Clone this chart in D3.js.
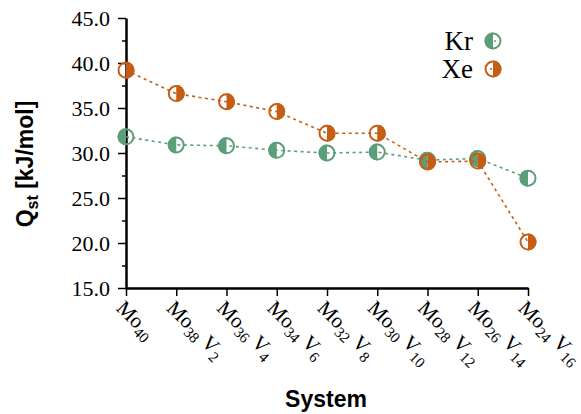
<!DOCTYPE html>
<html>
<head>
<meta charset="utf-8">
<script src="https://cdn.jsdelivr.net/npm/d3@7"></script>
<style>
  body { margin: 0; background: #fff; }
</style>
</head>
<body>
<div id="chart"></div>
<script>
// data
var systems = [
  {mo: "40", v: null}, {mo: "38", v: "2"}, {mo: "36", v: "4"},
  {mo: "34", v: "6"}, {mo: "32", v: "8"}, {mo: "30", v: "10"},
  {mo: "28", v: "12"}, {mo: "26", v: "14"}, {mo: "24", v: "16"}
];
var krValues = [31.8, 30.9, 30.8, 30.3, 30.0, 30.1, 29.2, 29.4, 27.2];
var xeValues = [39.2, 36.6, 35.7, 34.6, 32.2, 32.2, 29.0, 29.1, 20.1];
var yTicks = [15, 20, 25, 30, 35, 40, 45];
var yMinorTicks = [17.5, 22.5, 27.5, 32.5, 37.5, 42.5];

var krColor = "#5b9e7a", xeColor = "#c55e14";
var serif = "'Liberation Serif', 'Times New Roman', serif";
var sans = "'Liberation Sans', Arial, sans-serif";

var W = 581, H = 414;
var margin = {top: 18, right: 53, bottom: 126, left: 126};
var width = W - margin.left - margin.right,
    height = H - margin.top - margin.bottom;

var names = systems.map(function(d, i) { return "s" + i; });

var x = d3.scalePoint().domain(names).range([0, width]);
var y = d3.scaleLinear().domain([15, 45]).range([height, 0]);

var svg = d3.select("#chart").append("svg")
  .attr("width", W).attr("height", H);

var g = svg.append("g")
  .attr("transform", "translate(" + margin.left + "," + margin.top + ")");

//y axis minor ticks
g.append("g")
  .call(d3.axisLeft(y).tickValues(yMinorTicks).tickSize(4).tickFormat(""))
  .call(function(s) {
    s.select(".domain").remove();
    s.selectAll("line").attr("stroke-width", 1.5);
  });

//y axis
g.append("g")
  .call(d3.axisLeft(y).tickValues(yTicks).tickSize(8).tickSizeOuter(0).tickPadding(8)
    .tickFormat(d3.format(".1f")))
  .call(function(s) {
    s.select(".domain").attr("stroke-width", 2.5);
    s.selectAll("line").attr("stroke-width", 1.5);
    s.selectAll("text").attr("font-family", serif).attr("font-size", 22).attr("fill", "#000");
  });

//x axis
var xAxis = g.append("g")
  .attr("transform", "translate(0," + height + ")")
  .call(d3.axisBottom(x).tickSize(8).tickSizeOuter(0).tickFormat(""));
xAxis.select(".domain").attr("stroke-width", 2.5);
xAxis.selectAll("line").attr("stroke-width", 1.5);

//rotated system labels with subscripts
xAxis.selectAll(".tick").each(function(d, i) {
  var sys = systems[i];
  var t = d3.select(this).append("text")
    .attr("transform", "translate(0,10) rotate(45)")
    .attr("text-anchor", "start")
    .attr("dy", "0.75em")
    .attr("fill", "#000")
    .attr("font-family", serif)
    .attr("font-size", 21);
  t.append("tspan").text("Mo");
  t.append("tspan").attr("font-size", 15).attr("dy", 5).text(sys.mo);
  if (sys.v) {
    t.append("tspan").attr("dy", -5).text(" V");
    t.append("tspan").attr("font-size", 15).attr("dy", 5).text(sys.v);
  }
});

//axis titles
svg.append("text")
  .attr("x", 326).attr("y", 407)
  .attr("text-anchor", "middle")
  .attr("font-family", sans).attr("font-weight", "bold").attr("font-size", 23)
  .text("System");

var yl = svg.append("text")
  .attr("transform", "translate(33,164) rotate(-90)")
  .attr("text-anchor", "middle")
  .attr("font-family", sans).attr("font-weight", "bold").attr("font-size", 23);
yl.append("tspan").text("Q");
yl.append("tspan").attr("font-size", 16).attr("dy", 5).text("st");
yl.append("tspan").attr("dy", -5).text(" [kJ/mol]");

//half filled marker
var R = 8.5;
function marker(sel, color, side) {
  sel.append("circle")
    .attr("r", R - 1)
    .attr("fill", "none")
    .attr("stroke", color)
    .attr("stroke-width", 2);
  var sweep = side === "left" ? 0 : 1;
  sel.append("path")
    .attr("d", "M0," + (-R) + " A" + R + "," + R + " 0 0 " + sweep + " 0," + R + " Z")
    .attr("fill", color);
}

var line = d3.line()
  .x(function(d, i) { return x(names[i]); })
  .y(function(d) { return y(d); });

function series(values, color, side) {
  g.append("path")
    .datum(values)
    .attr("fill", "none")
    .attr("stroke", color)
    .attr("stroke-width", 1.6)
    .attr("stroke-dasharray", "3,3.5")
    .attr("d", line);
  g.selectAll(null)
    .data(values)
    .enter().append("g")
    .attr("transform", function(d, i) { return "translate(" + x(names[i]) + "," + y(d) + ")"; })
    .each(function() { marker(d3.select(this), color, side); });
}

series(krValues, krColor, "left");
series(xeValues, xeColor, "right");

//legend
var legendItems = [
  {name: "Kr", color: krColor, side: "left"},
  {name: "Xe", color: xeColor, side: "right"}
];
var legend = svg.selectAll(".legend")
  .data(legendItems)
  .enter().append("g")
  .attr("class", "legend")
  .attr("transform", function(d, i) { return "translate(493," + (41 + i * 28) + ")"; });

legend.append("text")
  .attr("x", -20).attr("y", 9)
  .attr("text-anchor", "end")
  .attr("font-family", serif).attr("font-size", 27)
  .text(function(d) { return d.name; });

legend.each(function(d) {
  var s = d3.select(this);
  s.append("line").attr("x1", -3).attr("x2", 3)
    .attr("stroke", d.color).attr("stroke-width", 1.5).attr("stroke-dasharray", "2,2");
  marker(s, d.color, d.side);
});
</script>
</body>
</html>
